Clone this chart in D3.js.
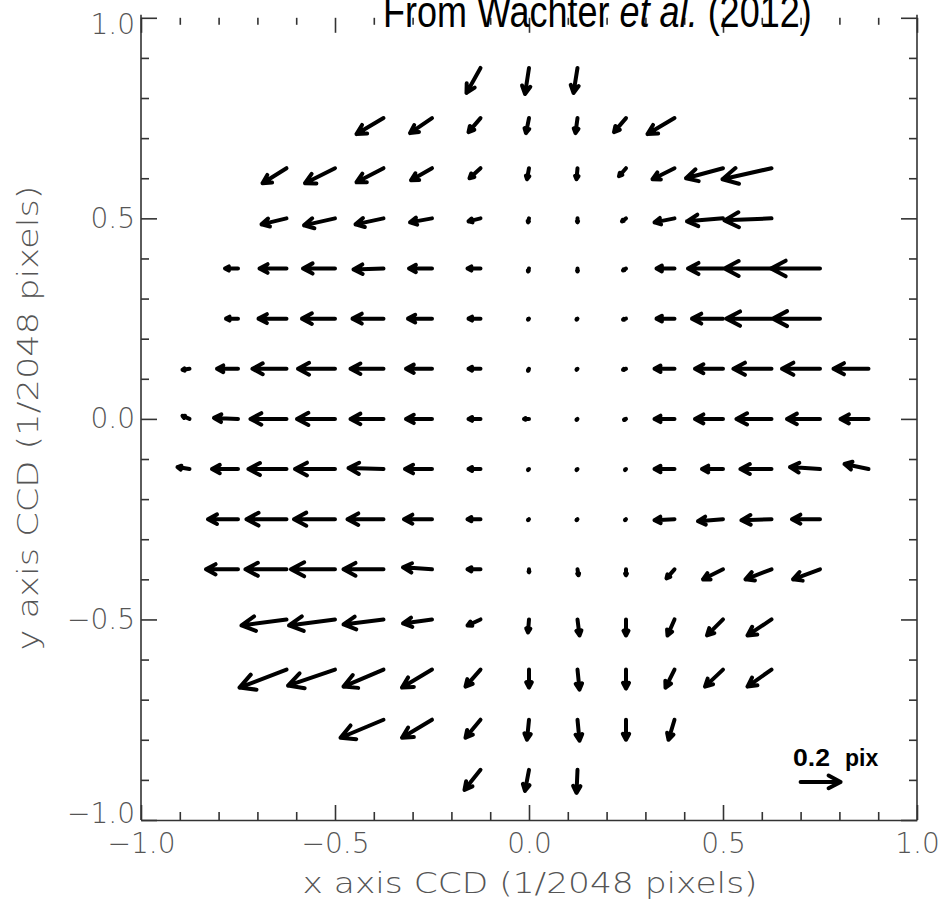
<!DOCTYPE html>
<html>
<head>
<meta charset="utf-8">
<script src="https://cdn.jsdelivr.net/npm/d3@7"></script>
<style>
  body { margin: 0; background: #fff; }
  svg { display: block; }
</style>
</head>
<body>
<svg id="chart" width="946" height="901"></svg>
<script>
// grid rows (y, in 1/2048 pixels) and the x of the first vector in each row
const gridStep = 0.125;
const rowY = [0.875, 0.75, 0.625, 0.5, 0.375, 0.25, 0.125, 0, -0.125, -0.25, -0.375, -0.5, -0.625, -0.75, -0.875];
const rowXStart = [-0.125, -0.375, -0.625, -0.625, -0.75, -0.75, -0.875, -0.875, -0.875, -0.75, -0.75, -0.625, -0.625, -0.375, -0.125];

// displacement x component (pix), one list per row
const dxPix = [
  [-0.070, -0.020, -0.020],
  [-0.135, -0.110, -0.060, -0.015, -0.010, -0.060, -0.135],
  [-0.120, -0.150, -0.135, -0.105, -0.055, -0.010, -0.005, -0.035, -0.110, -0.185, -0.245],
  [-0.125, -0.155, -0.140, -0.110, -0.060, -0.005, 0.000, -0.020, -0.100, -0.180, -0.235],
  [-0.065, -0.135, -0.160, -0.150, -0.115, -0.065, -0.005, 0.000, -0.015, -0.090, -0.175, -0.235, -0.245],
  [-0.060, -0.140, -0.165, -0.155, -0.120, -0.060, -0.005, -0.005, -0.015, -0.090, -0.155, -0.225, -0.235],
  [-0.035, -0.105, -0.170, -0.185, -0.165, -0.130, -0.060, -0.005, -0.005, -0.015, -0.100, -0.140, -0.190, -0.190, -0.175],
  [-0.035, -0.120, -0.180, -0.190, -0.165, -0.130, -0.060, -0.025, -0.005, -0.010, -0.100, -0.140, -0.175, -0.165, -0.140],
  [-0.060, -0.130, -0.190, -0.200, -0.175, -0.135, -0.060, -0.005, -0.005, -0.005, -0.100, -0.105, -0.155, -0.150, -0.120],
  [-0.150, -0.200, -0.205, -0.180, -0.140, -0.065, -0.005, -0.005, -0.005, -0.100, -0.125, -0.150, -0.140],
  [-0.160, -0.205, -0.220, -0.200, -0.145, -0.065, 0.000, 0.005, 0.000, -0.040, -0.100, -0.130, -0.135],
  [-0.225, -0.230, -0.200, -0.145, -0.065, -0.005, 0.010, 0.000, -0.035, -0.080, -0.120],
  [-0.235, -0.235, -0.200, -0.150, -0.075, 0.000, 0.010, 0.000, -0.045, -0.090, -0.120],
  [-0.215, -0.150, -0.075, -0.010, 0.010, 0.000, -0.030],
  [-0.080, -0.020, -0.005]
];

// displacement y component (pix), one list per row
const dyPix = [
  [-0.125, -0.130, -0.125],
  [-0.080, -0.075, -0.070, -0.075, -0.075, -0.070, -0.080],
  [-0.075, -0.075, -0.070, -0.060, -0.050, -0.055, -0.055, -0.040, -0.055, -0.050, -0.055],
  [-0.030, -0.035, -0.030, -0.020, -0.015, -0.020, -0.020, -0.015, -0.020, -0.015, -0.010],
  [0, 0, 0, -0.005, 0, 0, -0.015, -0.015, -0.010, 0, 0, 0, 0],
  [0, 0, 0, 0, 0, 0, -0.005, -0.005, -0.005, 0, 0, 0, 0],
  [-0.005, 0, 0, 0, 0, 0, 0, -0.010, -0.005, -0.005, 0, 0, 0, 0, 0],
  [0.015, 0.005, 0, 0, 0, 0, 0, 0, -0.005, -0.005, 0, 0, 0, 0, 0],
  [0.010, 0, 0, 0, 0.005, 0, 0, -0.005, -0.005, -0.005, 0, 0, 0, 0.010, 0.025],
  [0, 0, 0, 0, 0, 0, -0.005, -0.005, -0.005, -0.005, -0.010, -0.005, 0],
  [0, 0, 0, 0, 0.010, 0, -0.015, -0.030, -0.030, -0.045, -0.050, -0.050, -0.050],
  [-0.030, -0.030, -0.025, -0.020, -0.030, -0.065, -0.080, -0.080, -0.080, -0.080, -0.080],
  [-0.090, -0.080, -0.085, -0.090, -0.085, -0.090, -0.100, -0.095, -0.090, -0.085, -0.085],
  [-0.090, -0.090, -0.090, -0.100, -0.105, -0.100, -0.100],
  [-0.100, -0.105, -0.115]
];

// reference vector
const keyVector = { x: 0.70, y: -0.905, u: 0.2, v: 0 };
const keyLabel = ["0.2", "pix"];

const xMajor = [-1, -0.5, 0, 0.5, 1];
const xMinor = [-0.9, -0.8, -0.7, -0.6, -0.4, -0.3, -0.2, -0.1, 0.1, 0.2, 0.3, 0.4, 0.6, 0.7, 0.8, 0.9];
const yMajor = [-1, -0.5, 0, 0.5, 1];
const yMinor = xMinor;

const titleText = ["From Wachter ", "et al.", " (2012)"];
const xLabel = "x axis CCD (1/2048 pixels)";
const yLabel = "y axis CCD (1/2048 pixels)";

const vectors = [];
rowY.forEach((yv, i) => {
  dxPix[i].forEach((u, k) => {
    vectors.push({ x: rowXStart[i] + k * gridStep, y: yv, u: u, v: dyPix[i][k] });
  });
});

const svg = d3.select("#chart");
svg.append("rect").attr("width", 946).attr("height", 901).attr("fill", "#fff");

const x = d3.scaleLinear().domain([-1, 1]).range([141, 917]);
const y = d3.scaleLinear().domain([-1, 1]).range([820, 17.8]);
// 0.2 pix of displacement drawn as 40 screen pixels
const len = d3.scaleLinear().domain([0, 0.2]).range([0, 40]);

const fmt = d3.format(".1f");
const labelFont = "'DejaVu Sans', sans-serif";

function styleAxis(g) {
  g.selectAll("path, line").attr("stroke", "#333").attr("stroke-width", 1.6);
  g.selectAll("text")
    .attr("font-family", labelFont)
    .attr("font-weight", 200)
    .attr("font-size", 28)
    .attr("fill", "#555");
}

// bottom axis
svg.append("g")
    .attr("transform", `translate(0,${y(-1)})`)
    .call(d3.axisBottom(x).tickValues(xMajor).tickSizeInner(-15).tickSizeOuter(0).tickPadding(13).tickFormat(fmt))
    .call(styleAxis);
svg.append("g")
    .attr("transform", `translate(0,${y(-1)})`)
    .call(d3.axisBottom(x).tickValues(xMinor).tickSizeInner(-8).tickSizeOuter(0).tickFormat(""))
    .call(g => g.select(".domain").remove())
    .call(styleAxis);

// top axis: ticks only
svg.append("g")
    .attr("transform", `translate(0,${y(1)})`)
    .call(d3.axisTop(x).tickValues(xMajor).tickSizeInner(-15).tickSizeOuter(0).tickFormat(""))
    .call(g => g.select(".domain").remove())
    .call(styleAxis);
svg.append("g")
    .attr("transform", `translate(0,${y(1)})`)
    .call(d3.axisTop(x).tickValues(xMinor).tickSizeInner(-7).tickSizeOuter(0).tickFormat(""))
    .call(g => g.select(".domain").remove())
    .call(styleAxis);

// left axis
const leftAxis = svg.append("g")
    .attr("transform", `translate(${x(-1)},0)`)
    .call(d3.axisLeft(y).tickValues(yMajor).tickSizeInner(-16).tickSizeOuter(0).tickPadding(6).tickFormat(fmt))
    .call(styleAxis);
leftAxis.select(".domain").attr("d", `M0,${y(1) - 3}V${y(-1)}`);
// end labels sit a little inside the frame
leftAxis.selectAll(".tick text").attr("dy", d => d === 1 ? "0.55em" : d === -1 ? "0.1em" : "0.32em");
svg.append("g")
    .attr("transform", `translate(${x(-1)},0)`)
    .call(d3.axisLeft(y).tickValues(yMinor).tickSizeInner(-8).tickSizeOuter(0).tickFormat(""))
    .call(g => g.select(".domain").remove())
    .call(styleAxis);

// right axis
const rightAxis = svg.append("g")
    .attr("transform", `translate(${x(1)},0)`)
    .call(d3.axisRight(y).tickValues(yMajor).tickSizeInner(-16).tickSizeOuter(0).tickFormat(""))
    .call(styleAxis);
rightAxis.select(".domain").attr("d", `M0,${y(1) - 3}V${y(-1)}`);
svg.append("g")
    .attr("transform", `translate(${x(1)},0)`)
    .call(d3.axisRight(y).tickValues(yMinor).tickSizeInner(-8).tickSizeOuter(0).tickFormat(""))
    .call(g => g.select(".domain").remove())
    .call(styleAxis);

// arrow path, tail at the grid point (velovect style open head)
function arrowPath(d) {
  const x0 = x(d.x), y0 = y(d.y);
  const x1 = x0 + len(d.u), y1 = y0 - len(d.v);
  const dx = x1 - x0, dy = y1 - y0;
  const r = 0.34, a = 28 * Math.PI / 180;
  const ct = r * Math.cos(a), st = r * Math.sin(a);
  const hx1 = x1 - (ct * dx - st * dy), hy1 = y1 - (ct * dy + st * dx);
  const hx2 = x1 - (ct * dx + st * dy), hy2 = y1 - (ct * dy - st * dx);
  return `M${x0},${y0}L${x1},${y1}M${hx1},${hy1}L${x1},${y1}L${hx2},${hy2}`;
}

function styleArrow(p) {
  p.attr("fill", "none")
    .attr("stroke", "#000")
    .attr("stroke-width", 4)
    .attr("stroke-linecap", "round")
    .attr("stroke-linejoin", "round");
}

svg.append("g")
    .attr("class", "vectors")
  .selectAll("path")
  .data(vectors)
  .join("path")
    .attr("d", arrowPath)
    .call(styleArrow);

// key
svg.append("path")
    .attr("d", arrowPath(keyVector))
    .call(styleArrow);
svg.append("text")
    .attr("x", 793).attr("y", 766)
    .attr("font-family", "'Liberation Sans', Arial, sans-serif")
    .attr("font-weight", "bold")
    .attr("font-size", 23)
    .attr("textLength", 37)
    .attr("lengthAdjust", "spacingAndGlyphs")
    .text(keyLabel[0]);
svg.append("text")
    .attr("x", 845).attr("y", 766)
    .attr("font-family", "'Liberation Sans', Arial, sans-serif")
    .attr("font-weight", "bold")
    .attr("font-size", 23)
    .text(keyLabel[1]);

// axis titles
svg.append("text")
    .attr("x", 530).attr("y", 893)
    .attr("text-anchor", "middle")
    .attr("font-family", labelFont)
    .attr("font-weight", 200)
    .attr("font-size", 28)
    .attr("fill", "#555")
    .attr("textLength", 455)
    .attr("lengthAdjust", "spacingAndGlyphs")
    .text(xLabel);
svg.append("text")
    .attr("transform", "translate(38,418) rotate(-90)")
    .attr("text-anchor", "middle")
    .attr("font-family", labelFont)
    .attr("font-weight", 200)
    .attr("font-size", 28)
    .attr("fill", "#555")
    .attr("textLength", 465)
    .attr("lengthAdjust", "spacingAndGlyphs")
    .text(yLabel);

// title over the top edge, narrow face made by squeezing Liberation Sans
const title = svg.append("text")
    .attr("transform", "translate(383,27) scale(0.8,1)")
    .attr("font-family", "'Liberation Sans', Arial, sans-serif")
    .attr("font-size", 45)
    .attr("fill", "#000");
title.selectAll("tspan")
  .data(titleText)
  .join("tspan")
    .attr("font-style", (d, i) => i === 1 ? "italic" : "normal")
    .text(d => d);
</script>
</body>
</html>
